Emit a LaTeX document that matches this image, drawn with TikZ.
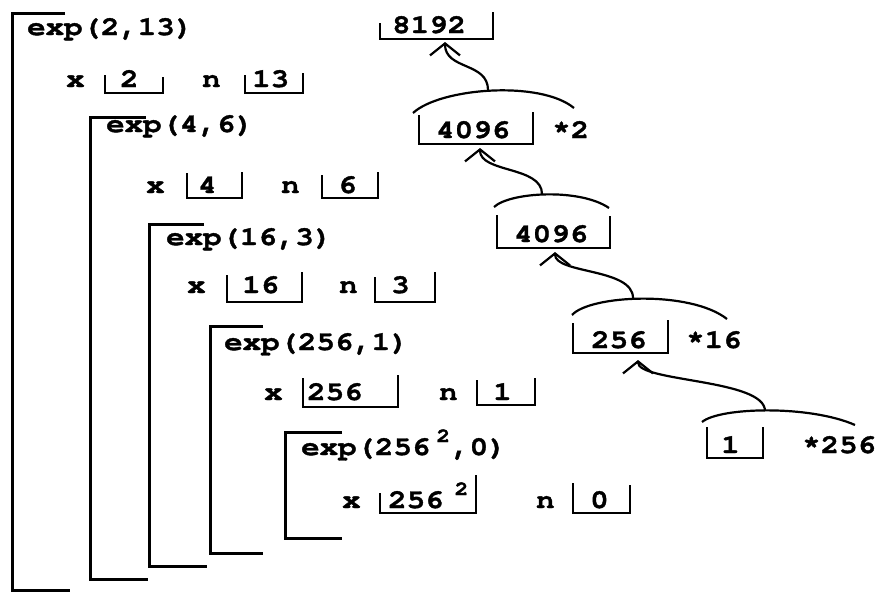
\documentclass[tikz,border=0pt]{standalone}
\usepackage{fontspec}
\newfontfamily\cf{texgyrecursor-bold}[Extension=.otf, FakeStretch=1.16, FakeBold=1.4]
\usetikzlibrary{arrows.meta}
\newcommand\vbx[5]{\draw[bx] (#1,#4) -- (#1,#3) -- (#2,#3) -- (#2,#5);}
\newcommand\bracketL[5]{\draw[brk] (#4,#2) -- (#1,#2) -- (#1,#3) -- (#5,#3);}
\newcommand\supr[1]{\raisebox{13pt}{\fontsize{20}{20}\selectfont #1}}
\begin{document}
\begin{tikzpicture}[x=1pt,y=-1pt,
  lbl/.style={inner sep=0pt, anchor=base west, font=\cf\fontsize{26.5}{26}\selectfont},
  brk/.style={line width=3pt},
  bx/.style={line width=2.6pt},
  arcl/.style={line width=2.2pt},
  conn/.style={line width=2.2pt,-{Straight Barb[length=12pt,width=30pt]}}]
\useasboundingbox (0,0) rectangle (880,592);
% brackets
\bracketL{12}{13}{590}{65}{70}
\bracketL{90}{117}{579}{146}{148}
\bracketL{149}{224}{566}{204}{207}
\bracketL{210}{326}{553}{263}{263}
\bracketL{285}{432}{538}{342}{342}
% row 1
\node[lbl] (e1) at (27,35) {exp(2,13)};
\vbx{380}{493}{39}{23}{12}
\node[lbl] (v1) at (392,33) {8192};
% row 2
\node[lbl] (x1) at (66,87) {x};
\vbx{105}{163}{93}{75}{77}
\node[lbl] (x1v) at (120,87) {2};
\node[lbl] (n1) at (202,87) {n};
\vbx{245}{303}{93}{75}{73}
\node[lbl] (n1v) at (252,87) {13};
% row 3
\node[lbl] (e2) at (106,132) {exp(4,6)};
\vbx{419}{533}{144}{115}{112}
\node[lbl] (v2) at (436,138) {4096};
\node[lbl] (m2) at (552,138) {*2};
% row 4
\node[lbl] (x2) at (146,193) {x};
\vbx{187}{242}{198}{173}{172}
\node[lbl] (x2v) at (198,193) {4};
\node[lbl] (n2) at (281,193) {n};
\vbx{322}{378}{198}{175}{172}
\node[lbl] (n2v) at (338,193) {6};
% row 5
\node[lbl] (e3) at (166,245) {exp(16,3)};
\vbx{497}{610}{248}{215}{216}
\node[lbl] (v3) at (514,242) {4096};
% row 6
\node[lbl] (x3) at (187,293) {x};
\vbx{227}{302}{302}{275}{272}
\node[lbl] (x3v) at (242,293) {16};
\node[lbl] (n3) at (339,293) {n};
\vbx{375}{435}{302}{277}{272}
\node[lbl] (n3v) at (391,293) {3};
% row 7
\node[lbl] (e4) at (224,350) {exp(256,1)};
\vbx{573}{668}{353}{323}{320}
\node[lbl] (v4) at (591,348) {256};
\node[lbl] (m4) at (686,348) {*16};
% row 8
\node[lbl] (x4) at (264,400) {x};
\vbx{303}{398}{407}{378}{375}
\node[lbl] (x4v) at (307,400) {256};
\node[lbl] (n4) at (439,400) {n};
\vbx{477}{535}{405}{380}{378}
\node[lbl] (n4v) at (493,400) {1};
% row 9
\node[lbl] (e5) at (301,455) {exp(256\kern6pt\supr{2}\kern1pt,0)};
\vbx{707}{763}{458}{427}{427}
\node[lbl] (v5) at (721,453) {1};
\node[lbl] (m5) at (802,453) {*256};
% row 10
\node[lbl] (x5) at (342,508) {x};
\vbx{380}{476}{513}{493}{475}
\node[lbl] (x5v) at (388,508) {256\kern11pt\supr{2}};
\node[lbl] (n5) at (536,508) {n};
\vbx{573}{630}{513}{483}{485}
\node[lbl] (n5v) at (590,508) {0};
% arcs
\draw[arcl] (413,113) .. controls (440,88) and (540,80) .. (574,108);
\draw[arcl] (494,207) .. controls (510,192) and (580,188) .. (609,208);
\draw[arcl] (572,315) .. controls (590,295) and (690,290) .. (727,319);
\draw[arcl] (702,422) .. controls (720,407) and (810,405) .. (855,425);
% connector ends
\coordinate (t2) at (488,90);
\coordinate (t3) at (542,194);
\coordinate (t4) at (633,298);
\coordinate (t5) at (765,411);
\coordinate (r1) at (445,42);
\coordinate (r2) at (480,148);
\coordinate (r3) at (555,252);
\coordinate (r4) at (638,360);
\draw[conn] (t2) .. controls +(0,-28) and +(0,28) .. (r1);
\draw[conn] (t3) .. controls +(0,-28) and +(0,25) .. (r2);
\draw[conn] (t4) .. controls +(0,-30) and +(0,22) .. (r3);
\draw[conn] (t5) .. controls +(0,-32) and +(0,22) .. (r4);
\end{tikzpicture}
\end{document}
